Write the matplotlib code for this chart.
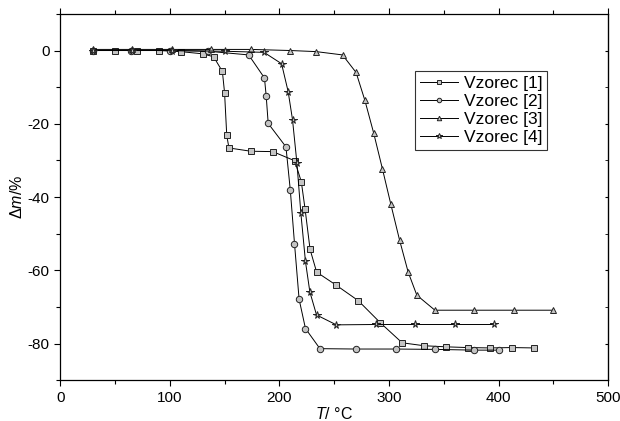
import matplotlib
matplotlib.use('Agg')
import matplotlib.pyplot as plt
from matplotlib.ticker import MultipleLocator

plt.rcParams['font.family'] = ['Liberation Sans', 'DejaVu Sans']
plt.rcParams['mathtext.fontset'] = 'custom'
plt.rcParams['mathtext.rm'] = 'Liberation Sans'
plt.rcParams['mathtext.it'] = 'Liberation Sans:italic'
plt.rcParams['axes.unicode_minus'] = False

# Vzorec [1] - squares
t1 = [30, 50, 70, 90, 110, 130, 140, 148, 150, 152, 154, 174, 194, 214, 220,
      223.5, 228, 234, 252, 272, 292, 312, 332, 352, 372, 392, 412, 432]
m1 = [0, 0, 0, 0, -0.3, -0.9, -1.7, -5.7, -11.5, -23.2, -26.6, -27.5, -27.6,
      -30.1, -35.8, -43.4, -54.3, -60.5, -64.1, -68.3, -74.3, -79.8, -80.6,
      -80.9, -81.1, -81.2, -81.1, -81.2]

# Vzorec [2] - circles
t2 = [30, 65, 100, 135, 172, 186.4, 188, 189.8, 206, 210, 213.8, 218, 223.8,
      237, 270, 306, 342, 378, 400]
m2 = [0, 0, 0, -0.2, -1.2, -7.5, -12.5, -19.9, -26.3, -38.2, -52.7, -67.9,
      -75.9, -81.4, -81.5, -81.5, -81.6, -81.8, -81.8]

# Vzorec [3] - triangles
t3 = [30, 66, 102, 138, 174, 210, 233.6, 257.6, 270, 278, 286, 294, 301.7,
      309.6, 317.5, 325.4, 341.9, 377.7, 414, 449.8]
m3 = [0.3, 0.3, 0.3, 0.3, 0.3, 0, -0.3, -1.2, -6.0, -13.6, -22.5, -32.3, -42.0,
      -51.7, -60.5, -66.8, -70.9, -70.9, -70.9, -70.9]

# Vzorec [4] - stars
t4 = [30, 66, 102, 150, 186, 202, 208, 212, 216, 219.6, 223.8, 227.8, 233.9,
      252, 288, 324, 360, 396]
m4 = [0, 0, 0, -0.2, -0.5, -3.6, -11.2, -18.9, -30.7, -44.4, -57.6, -65.9,
      -72.2, -74.9, -74.8, -74.8, -74.8, -74.8]

series = [(t1, m1, 's', 'Vzorec [1]'),
          (t2, m2, 'o', 'Vzorec [2]'),
          (t3, m3, '^', 'Vzorec [3]'),
          (t4, m4, '*', 'Vzorec [4]')]

fig = plt.figure(figsize=(6.2, 4.21), dpi=100)
ax = fig.add_axes([0.097, 0.097, 0.884, 0.870])

for t, m, mk, lab in series:
    ms = 5.5 if mk == '*' else 4.6
    ax.plot(t, m, color='black', lw=0.7, marker=mk, markersize=ms,
            markerfacecolor='#c4c4c4', markeredgecolor='#222222',
            markeredgewidth=0.7, label=lab)

ax.set_xlim(0, 500)
ax.set_ylim(-90, 10)
ax.xaxis.set_major_locator(MultipleLocator(100))
ax.xaxis.set_minor_locator(MultipleLocator(50))
ax.yaxis.set_major_locator(MultipleLocator(20))
ax.yaxis.set_minor_locator(MultipleLocator(10))
ax.set_yticks([0, -20, -40, -60, -80])

ax.tick_params(which='both', direction='out', labelsize=11, width=0.8,
               top=True, right=False)
ax.tick_params(which='major', length=4)
ax.tick_params(which='minor', length=3)
ax.tick_params(axis='x', which='both', top=True, labeltop=False)
for sp in ax.spines.values():
    sp.set_linewidth(0.9)

# right-side inward ticks
ax_r = ax.secondary_yaxis('right')
ax_r.yaxis.set_major_locator(MultipleLocator(20))
ax_r.yaxis.set_minor_locator(MultipleLocator(10))
ax_r.tick_params(which='both', direction='in', length=2.5, labelright=False)

ax.set_xlabel(r'$T$/ °C', fontsize=11.5, labelpad=1)
ax.set_ylabel(r'$\Delta m$/%', fontsize=11.5, labelpad=2)

leg = ax.legend(loc='upper right', bbox_to_anchor=(0.889, 0.844),
                fontsize=12.5, frameon=True, fancybox=False,
                edgecolor='black', handlelength=2.2, handletextpad=0.3,
                borderpad=0.3, labelspacing=0.15, borderaxespad=0,
                markerscale=0.7)
leg.get_frame().set_linewidth(0.8)

fig.savefig('out.png', dpi=100)
